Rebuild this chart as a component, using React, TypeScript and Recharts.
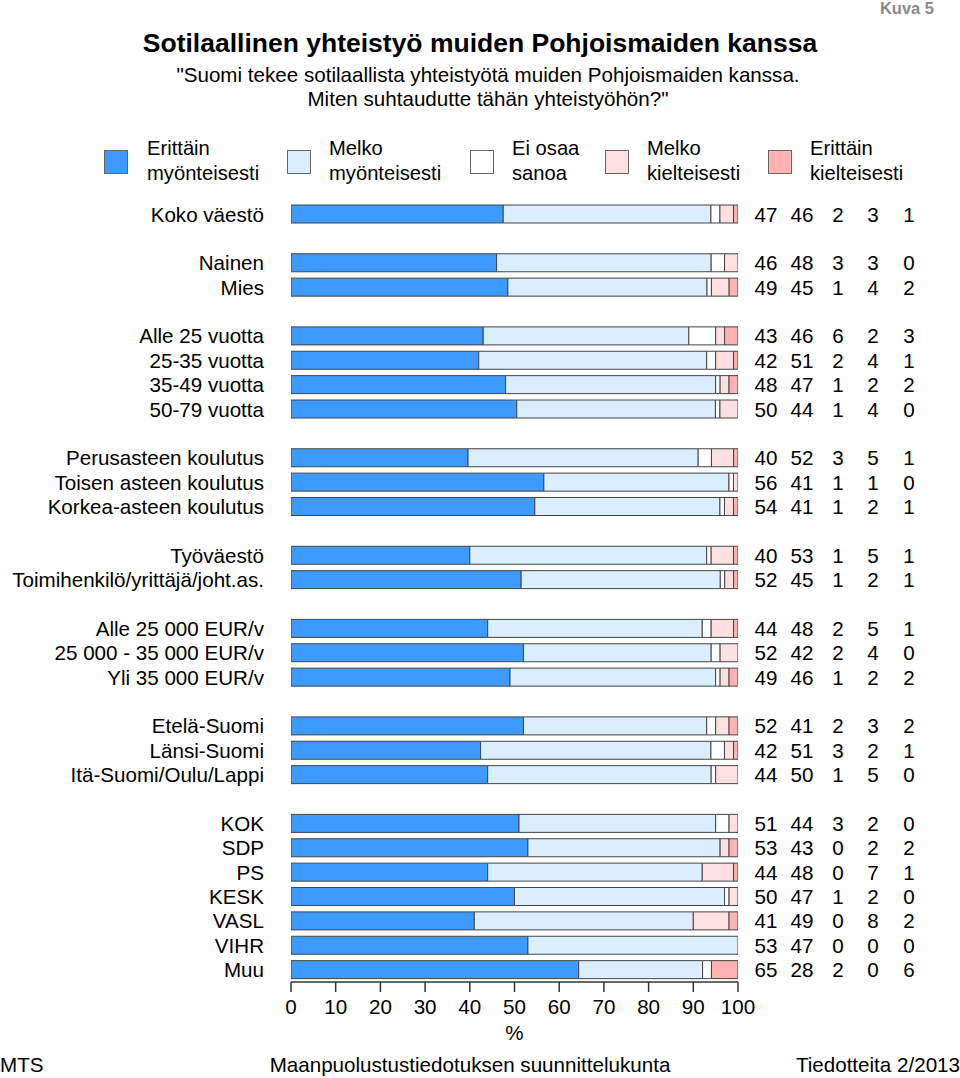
import { Bar, BarChart, XAxis, YAxis } from "recharts";

const categories = [
  "Koko väestö", "",
  "Nainen", "Mies", "",
  "Alle 25 vuotta", "25-35 vuotta", "35-49 vuotta", "50-79 vuotta", "",
  "Perusasteen koulutus", "Toisen asteen koulutus", "Korkea-asteen koulutus", "",
  "Työväestö", "Toimihenkilö/yrittäjä/joht.as.", "",
  "Alle 25 000 EUR/v", "25 000 - 35 000 EUR/v", "Yli 35 000 EUR/v", "",
  "Etelä-Suomi", "Länsi-Suomi", "Itä-Suomi/Oulu/Lappi", "",
  "KOK", "SDP", "PS", "KESK", "VASL", "VIHR", "Muu",
];

// null = blank spacer row between groups
const erittainMyont = [47, null, 46, 49, null, 43, 42, 48, 50, null, 40, 56, 54, null, 40, 52, null, 44, 52, 49, null, 52, 42, 44, null, 51, 53, 44, 50, 41, 53, 65];
const melkoMyont = [46, null, 48, 45, null, 46, 51, 47, 44, null, 52, 41, 41, null, 53, 45, null, 48, 42, 46, null, 41, 51, 50, null, 44, 43, 48, 47, 49, 47, 28];
const eiOsaa = [2, null, 3, 1, null, 6, 2, 1, 1, null, 3, 1, 1, null, 1, 1, null, 2, 2, 1, null, 2, 3, 1, null, 3, 0, 0, 1, 0, 0, 2];
const melkoKielt = [3, null, 3, 4, null, 2, 4, 2, 4, null, 5, 1, 2, null, 5, 2, null, 5, 4, 2, null, 3, 2, 5, null, 2, 2, 7, 2, 8, 0, 0];
const erittainKielt = [1, null, 0, 2, null, 3, 1, 2, 0, null, 1, 0, 1, null, 1, 1, null, 1, 0, 2, null, 2, 1, 0, null, 0, 2, 1, 0, 2, 0, 6];

const seriesNames = [
  ["Erittäin", "myönteisesti"],
  ["Melko", "myönteisesti"],
  ["Ei osaa", "sanoa"],
  ["Melko", "kielteisesti"],
  ["Erittäin", "kielteisesti"],
];
const colors = ["#3d9bff", "#dbeeff", "#ffffff", "#ffe0e1", "#ffb2b2"];
const xTicks = [0, 0.1, 0.2, 0.3, 0.4, 0.5, 0.6, 0.7, 0.8, 0.9, 1];

const series = [erittainMyont, melkoMyont, eiOsaa, melkoKielt, erittainKielt];
const keys = ["s0", "s1", "s2", "s3", "s4"];

const data = categories.map((name, i) => {
  const row: Record<string, any> = { id: "r" + i, name };
  series.forEach((s, k) => {
    row[keys[k]] = s[i];
  });
  return row;
});

const FONT = "'Liberation Sans', Arial, sans-serif";
const FS = 20.6;
const legendSquares = [104, 287, 470, 605, 768];
const legendTexts = [147, 329, 512, 647, 810];
const valueCols = [766, 802, 838, 873, 909];

function LeftTick(props: any) {
  const i = Number(String(props.payload.value).slice(1));
  return (
    <text x={264} y={props.y} dy="0.36em" textAnchor="end" fontSize={FS} fill="#000" fontFamily={FONT}>
      {categories[i]}
    </text>
  );
}

function RightTick(props: any) {
  const i = Number(String(props.payload.value).slice(1));
  if (erittainMyont[i] == null) return <g />;
  return (
    <g>
      {series.map((s, k) => (
        <text key={k} x={valueCols[k]} y={props.y} dy="0.36em" textAnchor="middle" fontSize={FS} fill="#000" fontFamily={FONT}>
          {s[i]}
        </text>
      ))}
    </g>
  );
}

export default function App() {
  return (
    <div style={{ position: "absolute", left: 0, top: 0, width: 960, height: 1078, background: "#fff", fontFamily: FONT, overflow: "hidden" }}>
      <div style={{ position: "absolute", right: 26, top: 0, fontSize: 16.5, lineHeight: "16px", fontWeight: "bold", color: "#8a8a8a" }}>Kuva 5</div>
      <div style={{ position: "absolute", left: 0, width: 960, top: 28, textAlign: "center", fontSize: 26.5, fontWeight: "bold" }}>
        Sotilaallinen yhteistyö muiden Pohjoismaiden kanssa
      </div>
      <div style={{ position: "absolute", left: 0, width: 976, top: 63, textAlign: "center", fontSize: FS, lineHeight: "24px" }}>
        "Suomi tekee sotilaallista yhteistyötä muiden Pohjoismaiden kanssa.
        <br />
        Miten suhtaudutte tähän yhteistyöhön?"
      </div>
      {seriesNames.map((n, k) => (
        <div key={k}>
          <div
            style={{
              position: "absolute",
              left: legendSquares[k],
              top: 150,
              width: 22,
              height: 22,
              background: colors[k],
              border: "1.5px solid #666",
            }}
          />
          <div style={{ position: "absolute", left: legendTexts[k], top: 136, fontSize: 20.2, lineHeight: "25px", color: "#000" }}>
            {n[0]}
            <br />
            {n[1]}
          </div>
        </div>
      ))}
      <div style={{ position: "absolute", left: 291, width: 447, top: 1021, textAlign: "center", fontSize: FS }}>%</div>
      <div style={{ position: "absolute", left: 0, top: 1053, fontSize: FS }}>MTS</div>
      <div style={{ position: "absolute", left: 0, width: 940, top: 1053, textAlign: "center", fontSize: FS }}>
        Maanpuolustustiedotuksen suunnittelukunta
      </div>
      <div style={{ position: "absolute", right: 0, top: 1053, fontSize: FS }}>Tiedotteita 2/2013</div>

      <div style={{ position: "absolute", left: 0, top: 0 }}>
        <BarChart
          width={960}
          height={1078}
          data={data}
          layout="vertical"
          stackOffset="expand"
          barCategoryGap={0}
          margin={{ top: 202, right: 0, bottom: 0, left: 0 }}
        >
          <XAxis
            type="number"
            domain={[0, 1]}
            ticks={xTicks}
            tickFormatter={(v: number) => String(Math.round(v * 100))}
            height={96}
            tickSize={10}
            tickMargin={7}
            tick={{ fontSize: FS, fill: "#000", fontFamily: FONT }}
            axisLine={{ stroke: "#333", strokeWidth: 1.5 }}
            tickLine={{ stroke: "#333", strokeWidth: 1.5 }}
            allowDataOverflow
          />
          <YAxis
            yAxisId="left"
            type="category"
            dataKey="id"
            width={291}
            axisLine={false}
            tickLine={false}
            tick={<LeftTick />}
            interval={0}
          />
          <YAxis
            yAxisId="right"
            orientation="right"
            type="category"
            dataKey="id"
            width={222}
            axisLine={false}
            tickLine={false}
            tick={<RightTick />}
            interval={0}
          />
          {keys.map((k, idx) => (
            <Bar
              key={k}
              yAxisId="left"
              dataKey={k}
              stackId="a"
              fill={colors[idx]}
              stroke="#444"
              strokeWidth={1}
              barSize={18}
              isAnimationActive={false}
            />
          ))}
        </BarChart>
      </div>
    </div>
  );
}
